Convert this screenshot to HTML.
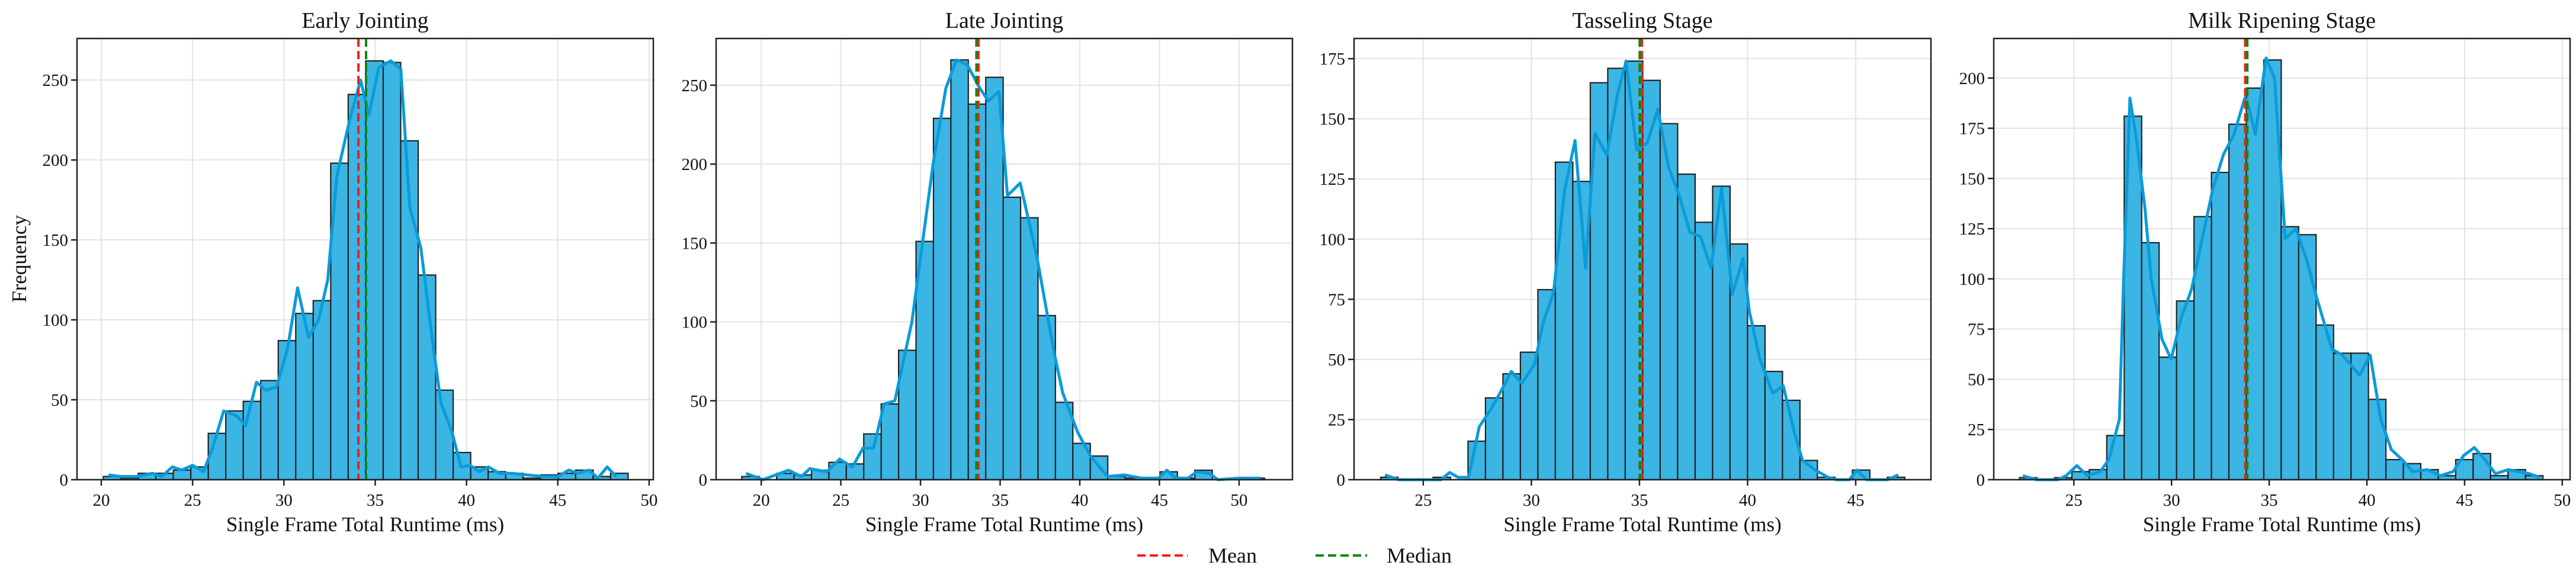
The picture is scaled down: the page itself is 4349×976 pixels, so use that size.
<!DOCTYPE html>
<html><head><meta charset="utf-8">
<style>
html,body{margin:0;padding:0;background:#fff;}
svg{display:block;font-family:"Liberation Serif",serif;}
</style></head>
<body>
<svg id="chart" width="4349" height="976" viewBox="0 0 4349 976" xmlns="http://www.w3.org/2000/svg"></svg>
<script>
// ---- Data ----
const titles = ["Early Jointing","Late Jointing","Tasseling Stage","Milk Ripening Stage"];
const binStart = [20.11, 18.78, 23.03, 22.22];
const binWidth = [0.958, 1.094, 0.808, 0.893];
const counts1 = [2,1,4,4,6,8,29,43,49,62,87,104,112,198,241,262,261,212,128,56,17,8,5,4,1,3,4,6,2,4];
const counts2 = [2,0,4,3,6,11,10,29,48,82,151,229,266,238,255,179,166,104,49,23,15,2,1,1,5,1,6,0,1,1];
const counts3 = [1,0,0,1,0,16,34,44,53,79,132,124,165,171,174,166,148,127,107,122,98,64,45,33,8,1,0,4,0,1];
const counts4 = [1,0,1,4,5,22,181,118,61,89,131,153,177,195,209,126,122,77,63,63,40,10,8,5,2,10,13,2,5,2];
const kdeX1 = [20.4,21,22,22.8,23.3,23.9,24.4,25,25.6,26.1,26.7,27.4,27.9,28.5,29,29.6,30.2,30.75,31.35,31.9,32.4,32.9,33.6,34.2,34.65,35.2,35.85,36.4,36.9,37.5,38.1,38.6,39.2,39.7,40.2,40.7,41.2,41.8,42.5,43.3,44.2,45,45.6,46.1,46.7,47.2,47.7,48.2];
const kdeY1 = [3,2,2,4,2,8,6,9,5,20,43,40,34,61,56,58,82,120,89,100,125,190,225,250,228,258,262,257,170,145,90,48,30,8,9,5,8,4,4,3,2,2,6,4,6,1,8,2];
const kdeX2 = [19.05,20.11,21.72,22.52,23.05,24.12,24.92,25.72,26.39,27.05,27.72,28.39,29.46,30.79,31.59,32.26,32.93,33.73,34.26,34.93,35.46,36.26,37.33,38.40,38.93,39.87,40.67,41.73,42.80,43.87,44.94,45.47,46.00,46.80,47.34,48.14,48.67,50.01,51.34];
const kdeY2 = [4,0,6,2,7,5,13,8,20,20,48,50,100,200,248,266,263,248,240,246,180,188,140,80,55,30,15,2,3,1,1,6,1,1,5,4,0,1,1];
const kdeX3 = [23.23,23.86,25.82,26.22,26.61,27.10,27.59,28.18,28.67,29.07,29.56,30.15,30.54,31.03,31.53,32.02,32.51,32.94,33.49,33.98,34.38,34.87,35.36,35.85,36.34,36.84,37.33,37.82,38.31,38.80,39.29,39.79,40.08,40.57,41.16,41.65,42.15,42.54,43.13,43.72,44.11,44.70,45.06,45.49,46.47,46.97];
const kdeY3 = [2,0,0,3,1,1,22,30,38,45,40,48,65,78,120,141,88,144,135,160,174,137,140,154,130,118,103,101,88,121,77,92,70,50,36,39,20,8,4,1,0,0,4,0,0,2];
const kdeX4 = [22.39,23.09,24.18,24.61,25.15,25.70,26.35,26.79,27.33,27.55,27.87,28.20,28.64,28.96,29.51,29.98,30.48,31.03,31.57,32.12,32.66,33.20,33.75,33.97,34.29,34.84,35.27,35.82,36.36,36.90,37.45,38.21,38.75,39.62,40.17,40.71,41.25,41.80,42.34,43.10,43.76,44.41,44.95,45.50,46.04,46.58,47.24,47.78,48.32,48.87];
const kdeY4 = [2,0,0,2,7,2,4,10,30,100,190,170,135,100,70,60,80,95,120,145,162,172,190,185,172,210,200,120,125,110,90,65,62,52,62,30,15,10,4,5,2,4,12,16,10,3,5,4,3,1];
const means = [34.08, 33.64, 35.11, 33.77];
const medians = [34.5, 33.51, 35.01, 33.88];
const xTicks1 = [20,25,30,35,40,45,50];
const xTicks2 = [20,25,30,35,40,45,50];
const xTicks3 = [25,30,35,40,45];
const xTicks4 = [25,30,35,40,45,50];
const yTicks1 = [0,50,100,150,200,250];
const yTicks2 = [0,50,100,150,200,250];
const yTicks3 = [0,25,50,75,100,125,150,175];
const yTicks4 = [0,25,50,75,100,125,150,175,200];

// ---- Layout (not data) ----
const layout = [
  {left:130,right:1103,xmin:18.67,xmax:50.23,ymax:276},
  {left:1209,right:2182,xmin:17.17,xmax:53.35,ymax:279.6},
  {left:2286,right:3260,xmin:21.8,xmax:48.48,ymax:183.4},
  {left:3366,right:4339,xmin:20.9,xmax:50.4,ymax:219.7}
];
const TOP=65, BOT=810;
const counts=[counts1,counts2,counts3,counts4];
const kdeX=[kdeX1,kdeX2,kdeX3,kdeX4], kdeY=[kdeY1,kdeY2,kdeY3,kdeY4];
const xTicks=[xTicks1,xTicks2,xTicks3,xTicks4], yTicks=[yTicks1,yTicks2,yTicks3,yTicks4];
const NS="http://www.w3.org/2000/svg";
const svg=document.getElementById('chart');
function mk(tag,attrs,parent,text){const e=document.createElementNS(NS,tag);for(const k in attrs)e.setAttribute(k,attrs[k]);if(text!==undefined)e.textContent=text;(parent||svg).appendChild(e);return e;}

for(let p=0;p<4;p++){
  const L=layout[p];
  const sx=v=>L.left+(v-L.xmin)/(L.xmax-L.xmin)*(L.right-L.left);
  const sy=v=>BOT-v/L.ymax*(BOT-TOP);
  const g=mk('g',{});
  
  
  // grid
  xTicks[p].forEach(t=>{const l=mk('line',{x1:sx(t),x2:sx(t),y1:TOP,y2:BOT,stroke:'#e3e3e3','stroke-width':2},g);
    });
  yTicks[p].forEach(t=>{const l=mk('line',{x1:L.left,x2:L.right,y1:sy(t),y2:sy(t),stroke:'#e3e3e3','stroke-width':2},g);
    });
  // bars
  counts[p].forEach((c,i)=>{
    const x0=sx(binStart[p]+i*binWidth[p]), x1=sx(binStart[p]+(i+1)*binWidth[p]);
    const r=mk('rect',{x:x0,y:sy(c),width:x1-x0,height:BOT-sy(c),fill:'#3bb5e4',stroke:'#222','stroke-width':2.2},g);
    
    
  });
  // kde
  const pts=kdeX[p].map((x,i)=>sx(x)+','+sy(kdeY[p][i])).join(' ');
  const k=mk('polyline',{points:pts,fill:'none',stroke:'#0a9bd9','stroke-width':5,'stroke-linejoin':'round'},g);
  
  
  // mean/median
  const m=mk('line',{x1:sx(means[p]),x2:sx(means[p]),y1:TOP,y2:BOT,stroke:'#ff1a1a','stroke-width':4,'stroke-dasharray':'14,7'},g);
  
  
  const md=mk('line',{x1:sx(medians[p]),x2:sx(medians[p]),y1:TOP,y2:BOT,stroke:'#0a8a0a','stroke-width':4,'stroke-dasharray':'14,7'},g);
  
  
  // frame
  const f=mk('rect',{x:L.left,y:TOP,width:L.right-L.left,height:BOT-TOP,fill:'none',stroke:'#222','stroke-width':2.5},g);
  
  
  // ticks
  xTicks[p].forEach(t=>{
    mk('line',{x1:sx(t),x2:sx(t),y1:BOT,y2:BOT+10,stroke:'#222','stroke-width':2.5},g);
    const tx=mk('text',{x:sx(t),y:BOT+44,'text-anchor':'middle','font-size':29,fill:'#111'},g,String(t));
    
    
  });
  yTicks[p].forEach(t=>{
    mk('line',{x1:L.left-10,x2:L.left,y1:sy(t),y2:sy(t),stroke:'#222','stroke-width':2.5},g);
    const ty=mk('text',{x:L.left-15,y:sy(t)+10,'text-anchor':'end','font-size':29,fill:'#111'},g,String(t));
    
    
  });
  const tt=mk('text',{x:(L.left+L.right)/2,y:47,'text-anchor':'middle','font-size':38,fill:'#111'},g,titles[p]);
  
  
  const xl=mk('text',{x:(L.left+L.right)/2,y:897,'text-anchor':'middle','font-size':35,fill:'#111'},g,'Single Frame Total Runtime (ms)');
  
  
}
const yl=mk('text',{x:0,y:0,'text-anchor':'middle','font-size':35,fill:'#111',transform:'translate(44,437) rotate(-90)'},svg,'Frequency');


// legend
const lg=mk('g',{});


const l1=mk('line',{x1:1920,x2:2005,y1:938,y2:938,stroke:'#ff1a1a','stroke-width':4,'stroke-dasharray':'14,7'},lg);


const t1=mk('text',{x:2040,y:950,'font-size':36,fill:'#111'},lg,'Mean');


const l2=mk('line',{x1:2221,x2:2308,y1:938,y2:938,stroke:'#0a8a0a','stroke-width':4,'stroke-dasharray':'14,7'},lg);


const t2=mk('text',{x:2341,y:950,'font-size':36,fill:'#111'},lg,'Median');


</script>
</body></html>
